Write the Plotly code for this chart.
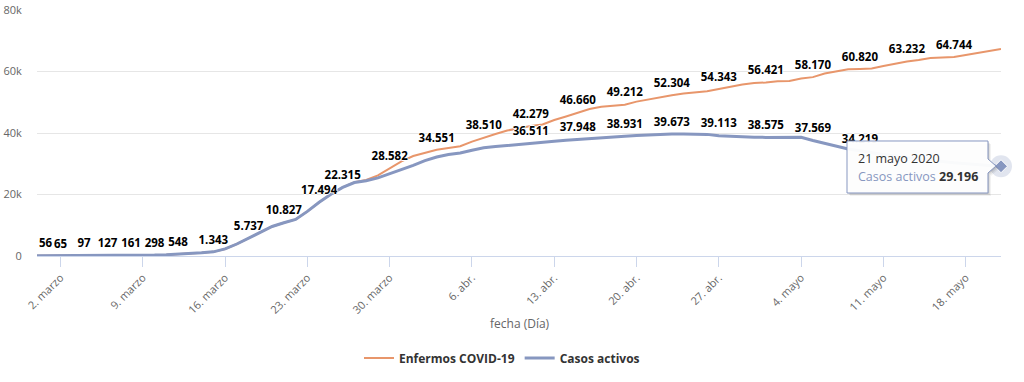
import plotly.graph_objects as go
import pandas as pd

# ---------------- data ----------------
dates = pd.date_range("2020-02-29", "2020-05-21", freq="D").strftime("%Y-%m-%d").tolist()

enfermos = [
    56, 60, 65, 80, 97, 112, 127, 143, 161, 220, 298, 410, 548, 790, 1030, 1343,
    2300, 3900, 5737, 7800, 9600, 10827, 11900, 14500, 17494, 20100, 22315,
    24000, 24700, 26200, 28582, 30800,
    32500, 33650, 34551, 35100, 35700, 37200, 38510, 39670, 40800, 41560, 42279,
    42760, 44230, 45370, 46660, 47800, 48520, 48780, 49212, 50200, 50900, 51700,
    52304, 52850, 53250, 53600, 54343, 55100, 55770, 56260,
    56421, 56850, 56950, 57700, 58170, 59350, 60000, 60750, 60820, 60950, 61800,
    62600, 63232, 63750, 64400, 64550, 64744, 65350, 66000, 66650, 67300,
]

activos = [
    56, 60, 65, 80, 97, 112, 127, 143, 161, 220, 298, 410, 548, 790, 1030, 1343,
    2300, 3900, 5737, 7800, 9600, 10827, 11900, 14500, 17494, 20100, 22315,
    23900, 24500, 25400, 26700, 28000,
    29500, 31000, 32200, 33000, 33500, 34400, 35200, 35600, 35900, 36250, 36511,
    36950, 37300, 37650, 37948, 38200, 38450, 38700, 38931, 39150, 39350, 39550,
    39673, 39700, 39650, 39550, 39113, 38900, 38700, 38600,
    38575, 38650, 38700, 38600, 37569, 36700, 35700, 34800, 34219, 33500, 33000,
    32500, 32000, 31500, 31100, 30700, 30300, 29950, 29700, 29450, 29196,
]

label_dates_enfermos = [
    "2020-02-29", "2020-03-02", "2020-03-04", "2020-03-06", "2020-03-08",
    "2020-03-10", "2020-03-12", "2020-03-15", "2020-03-18", "2020-03-21",
    "2020-03-24", "2020-03-26", "2020-03-30", "2020-04-03", "2020-04-07",
    "2020-04-11", "2020-04-15", "2020-04-19", "2020-04-23", "2020-04-27",
    "2020-05-01", "2020-05-05", "2020-05-09", "2020-05-13", "2020-05-17",
]
label_dates_activos = [
    "2020-04-11", "2020-04-15", "2020-04-19", "2020-04-23", "2020-04-27",
    "2020-05-01", "2020-05-05", "2020-05-09",
]

tick_dates = ["2020-03-02", "2020-03-09", "2020-03-16", "2020-03-23", "2020-03-30",
              "2020-04-06", "2020-04-13", "2020-04-20", "2020-04-27", "2020-05-04",
              "2020-05-11", "2020-05-18"]
tick_text = ["2. marzo", "9. marzo", "16. marzo", "23. marzo", "30. marzo",
             "6. abr.", "13. abr.", "20. abr.", "27. abr.", "4. mayo",
             "11. mayo", "18. mayo"]

y_ticks = [0, 20000, 40000, 60000, 80000]
y_tick_text = ["0", "20k", "40k", "60k", "80k"]

series_names = ["Enfermos COVID-19", "Casos activos"]
month_names = {2: "febrero", 3: "marzo", 4: "abril", 5: "mayo"}

# ---------------- style ----------------
C_ENF = "#e8966b"
C_ACT = "#8797c0"
FONT = "Open Sans"
OUTLINE = "1px 0 0 #fff, -1px 0 0 #fff, 0 1px 0 #fff, 0 -1px 0 #fff"
LABEL_FONT = dict(family=FONT, size=11.5, color="#000000", weight="bold", shadow=OUTLINE)

L, R, T, B = 37, 1001, 10, 256
W, H = R - L, B - T


def fx(p):
    return (p - L) / W


def fy(p):
    return (B - p) / H


def fmt(v):
    return f"{v:,}".replace(",", ".")


def label_text(values, wanted):
    s = set(wanted)
    return [fmt(v) if (d in s and i > 0) else "" for i, (d, v) in enumerate(zip(dates, values))]


fig = go.Figure()

fig.add_trace(go.Scatter(x=dates, y=enfermos, name=series_names[0], mode="lines",
                         line=dict(color=C_ENF, width=2), hoverinfo="skip"))
fig.add_trace(go.Scatter(x=dates, y=activos, name=series_names[1], mode="lines",
                         line=dict(color=C_ACT, width=3), hoverinfo="skip"))

for vals, wanted in ((enfermos, label_dates_enfermos), (activos, label_dates_activos)):
    fig.add_trace(go.Scatter(
        x=dates, y=vals, mode="markers+text", showlegend=False, hoverinfo="skip",
        marker=dict(size=7, opacity=0),
        text=label_text(vals, wanted), textposition="top center",
        textfont=LABEL_FONT,
    ))

# hovered point (last value of Casos activos)
fig.add_trace(go.Scatter(x=[dates[-1]], y=[activos[-1]], mode="markers", showlegend=False,
                         hoverinfo="skip", cliponaxis=False,
                         marker=dict(size=22, color=C_ACT, opacity=0.25, line=dict(width=0))))
fig.add_trace(go.Scatter(x=[dates[-1]], y=[activos[-1]], mode="markers", showlegend=False,
                         hoverinfo="skip", cliponaxis=False,
                         marker=dict(size=10, symbol="diamond", color=C_ACT,
                                     line=dict(color="#ffffff", width=1))))

# tooltip
bx0, bx1, by0, by1 = 847, 988, 141, 193
notch = [(988, 159), (996, 166), (988, 173)]


def tip_path(dx=0, dy=0):
    pts = [(bx0, by0), (bx1, by0), notch[0], notch[1], notch[2], (bx1, by1), (bx0, by1)]
    return "M " + " L ".join(f"{fx(x + dx):.5f},{fy(y + dy):.5f}" for x, y in pts) + " Z"


shapes = []
for d, a in ((3, 0.05), (2, 0.07), (1, 0.09)):
    shapes.append(dict(type="path", xref="paper", yref="paper", path=tip_path(d, d),
                       fillcolor=f"rgba(0,0,0,{a})", line=dict(width=0), layer="above"))
shapes.append(dict(type="path", xref="paper", yref="paper", path=tip_path(),
                   fillcolor="rgba(255,255,255,0.96)", line=dict(color=C_ACT, width=1),
                   layer="above"))

last = pd.Timestamp(dates[-1])
tip_date = f"{last.day} {month_names[last.month]} {last.year}"

annotations = []
# first data label is kept inside the plot area (justified to the left edge)
if dates[0] in label_dates_enfermos:
    annotations.append(dict(x=dates[0], y=enfermos[0], xref="x", yref="y", xanchor="left",
                            yanchor="middle", yshift=13, xshift=0, text=fmt(enfermos[0]),
                            showarrow=False, font=LABEL_FONT))
annotations += [
    dict(xref="paper", yref="paper", x=fx(856), y=fy(158), xanchor="left", yanchor="middle",
         text=tip_date, showarrow=False, font=dict(family=FONT, size=12.5, color="#333333")),
    dict(xref="paper", yref="paper", x=fx(856), y=fy(176), xanchor="left", yanchor="middle",
         text=f'<span style="color:{C_ACT}">{series_names[1]}</span> <b>{fmt(activos[-1])}</b>',
         showarrow=False, font=dict(family=FONT, size=12.5, color="#333333")),
    dict(xref="paper", yref="paper", x=fx(520), y=fy(323), xanchor="center", yanchor="middle",
         text="fecha (Día)", showarrow=False, font=dict(family=FONT, size=12, color="#666666")),
]

fig.update_layout(
    width=1024, height=382, autosize=False,
    margin=dict(l=L, r=1024 - R, t=T, b=382 - B, pad=0, autoexpand=False),
    paper_bgcolor="white", plot_bgcolor="white",
    font=dict(family=FONT, color="#666666"),
    hovermode=False,
    shapes=shapes, annotations=annotations,
    legend=dict(orientation="h", x=fx(502), xanchor="center", y=fy(358), yanchor="middle",
                font=dict(family=FONT, size=12, color="#333333", weight="bold"),
                itemclick=False, itemdoubleclick=False, bgcolor="rgba(0,0,0,0)"),
    xaxis=dict(type="date", range=[dates[0], dates[-1]], tickvals=tick_dates, ticktext=tick_text,
               tickangle=-45, ticks="outside", ticklen=10, tickcolor="#ccd6eb", tickwidth=1,
               showline=True, linecolor="#ccd6eb", linewidth=1, showgrid=False, zeroline=False,
               automargin=False,
               tickfont=dict(family=FONT, size=11, color="#666666"), fixedrange=True),
    yaxis=dict(range=[0, 80000], tickvals=y_ticks, ticktext=y_tick_text, showgrid=True,
               gridcolor="#e6e6e6", gridwidth=1, zeroline=False, showline=False,
               ticks="outside", ticklen=12, tickcolor="rgba(0,0,0,0)", automargin=False,
               tickfont=dict(family=FONT, size=11, color="#666666"), fixedrange=True),
)

fig.write_html("out.html", config={"displayModeBar": False},
               post_script="document.body.style.margin='0';document.body.style.overflow='hidden';")
